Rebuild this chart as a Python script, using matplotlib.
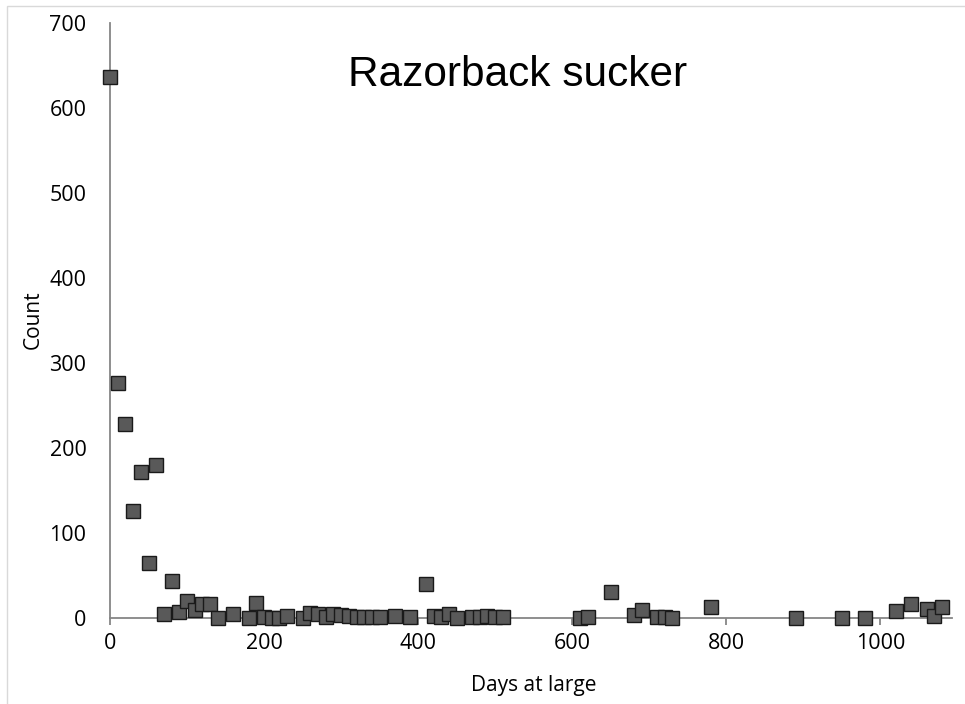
import matplotlib
matplotlib.use("Agg")
import matplotlib.pyplot as plt
from matplotlib.patches import Rectangle

# days at large (10-day bins) and number of fish
days = [0, 10, 20, 30, 40, 50, 60, 70, 80, 90,
        100, 110, 120, 130, 140, 160, 180, 190, 200, 210,
        220, 230, 250, 260, 270, 280, 290, 300, 310, 320,
        330, 340, 350, 370, 390, 410, 420, 430, 440, 450,
        470, 480, 490, 500, 510, 610, 620, 650, 680, 690,
        710, 720, 730, 780, 890, 950, 980, 1020, 1040, 1060,
        1070, 1080]
counts = [637, 276, 228, 126, 172, 65, 180, 5, 43, 7,
          20, 9, 16, 17, 0, 5, 0, 18, 1, 0,
          0, 2, 0, 6, 5, 1, 5, 3, 2, 1,
          1, 1, 1, 2, 1, 40, 2, 1, 5, 0,
          1, 1, 2, 1, 1, 0, 1, 31, 4, 10,
          1, 1, 0, 13, 0, 0, 0, 8, 17, 11,
          2, 13]

x_ticks = [0, 200, 400, 600, 800, 1000]
y_ticks = [0, 100, 200, 300, 400, 500, 600, 700]

W, H = 965, 704
fig = plt.figure(figsize=(W / 100, H / 100), dpi=100)
ax = fig.add_axes([110 / W, 1 - 618 / H, (952 - 110) / W, (618 - 23) / H])

ax.plot(days, counts, linestyle="none", marker="s", markersize=10.5,
        markerfacecolor="#595959", markeredgecolor="#1a1a1a",
        markeredgewidth=1.0, clip_on=False, zorder=3)

ax.set_xlim(0, 1093)
ax.set_ylim(0, 700)
ax.set_xticks(x_ticks)
ax.set_yticks(y_ticks)

for side in ("top", "right"):
    ax.spines[side].set_visible(False)
for side in ("left", "bottom"):
    ax.spines[side].set_color("#868686")
    ax.spines[side].set_linewidth(1.3)

font = ["Open Sans", "DejaVu Sans"]
ax.tick_params(axis="x", direction="out", length=5, width=1.3,
               color="#868686", pad=6)
ax.tick_params(axis="y", length=0, pad=17)
for lab in ax.get_xticklabels() + ax.get_yticklabels():
    lab.set_fontfamily(font)
    lab.set_fontsize(15.5)
    lab.set_color("black")

fig.text(518 / W, 1 - 75 / H, "Razorback sucker", ha="center", va="center",
         fontsize=30.5, family=["Liberation Sans", "DejaVu Sans"])
fig.text(33 / W, 1 - 320 / H, "Count", rotation=90, ha="center", va="center",
         fontsize=15, family=font)
fig.text(534 / W, 1 - 686 / H, "Days at large", ha="center", va="center",
         fontsize=15, family=font)

# thin outer chart border (cropped on the right and bottom)
fig.patches.append(Rectangle((7 / W, -0.1), 1.2, 1.1 - 6 / H,
                             transform=fig.transFigure, fill=False,
                             edgecolor="#d9d9d9", linewidth=1.0))

fig.savefig("out.png", dpi=100)
